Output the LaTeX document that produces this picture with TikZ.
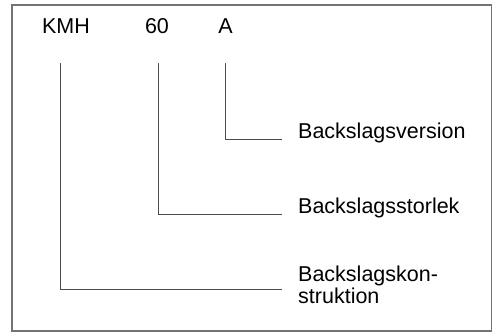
\documentclass[tikz,border=0pt]{standalone}
\usepackage{fontspec}
\setmainfont{Liberation Sans}
\begin{document}
\begin{tikzpicture}[x=1pt,y=-1pt,
  code/.style={anchor=base,inner sep=0pt,font=\fontsize{21.5}{22}\selectfont},
  label/.style={anchor=base west,inner sep=0pt,align=left,font=\fontsize{21.5}{22}\selectfont},
  leader/.style={draw=black!70,line width=0.9pt},
  frame/.style={draw=black!55,line width=1.4pt}]
\useasboundingbox (0,0) rectangle (493,332);
\draw[frame] (12,5) rectangle (491.5,331);

% type code
\node[code] (kmh) at (66,34) {KMH};
\node[code] (size) at (157,34) {60};
\node[code] (ver) at (225.5,34) {A};

% explanations (a multi-line node sits on the baseline of its last line)
\node[label] (lver) at (298,138.5) {Backslagsversion};
\node[label] (lsize) at (298,213) {Backslagsstorlek};
\node[label] (lcon) at (298,303) {Backslagskon-\\struktion};

% leader lines
\coordinate (kmhtop) at (60,63);
\coordinate (sizetop) at (158,63);
\coordinate (vertop) at (225,63);
\coordinate (verend) at (282,139);
\coordinate (sizeend) at (282,214);
\coordinate (conend) at (282,289);
\draw[leader] (vertop) |- (verend);
\draw[leader] (sizetop) |- (sizeend);
\draw[leader] (kmhtop) |- (conend);
\end{tikzpicture}
\end{document}
